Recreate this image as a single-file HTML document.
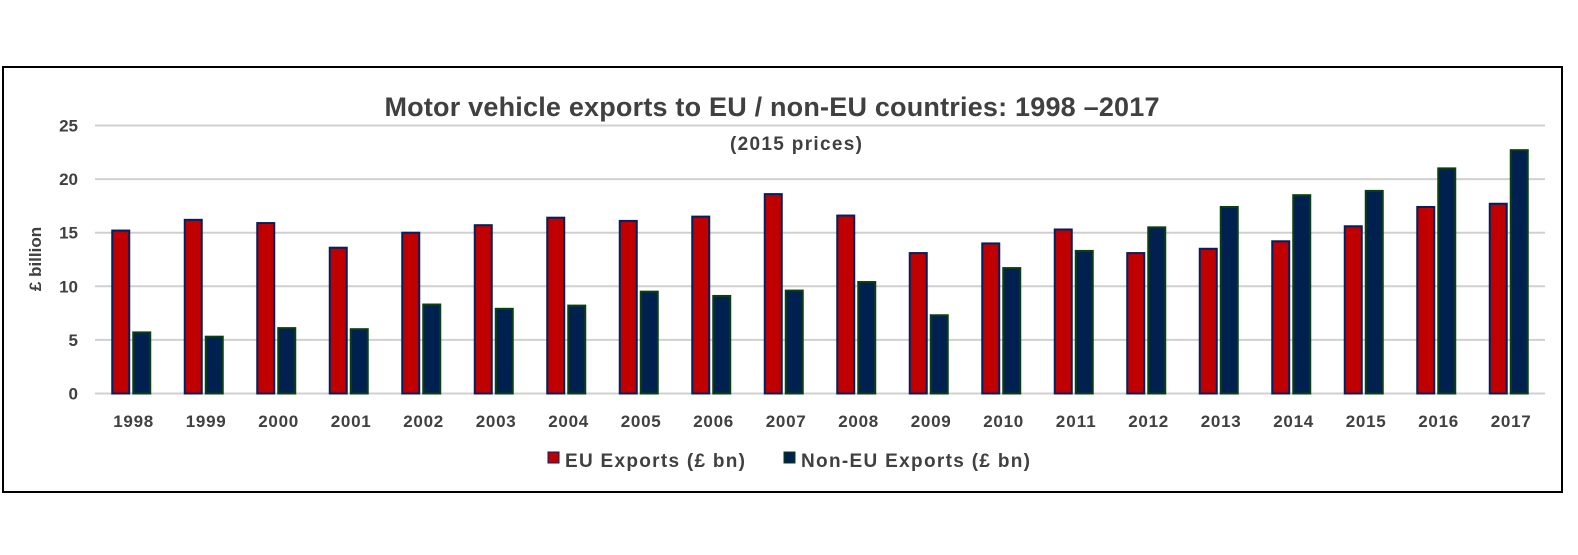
<!DOCTYPE html>
<html><head><meta charset="utf-8"><style>
body{margin:0;background:#fff;}
svg text{font-family:"Liberation Sans",sans-serif;font-weight:bold;fill:#404040;}
</style></head><body>
<svg width="1578" height="550" id="chart">
<rect x="3" y="67" width="1559" height="425" fill="#fff" stroke="#000" stroke-width="2"/>
<text x="772" y="116" font-size="27" text-anchor="middle" textLength="775">Motor vehicle exports to EU / non-EU countries: 1998 –2017</text>
<text x="796" y="150" font-size="19" text-anchor="middle" textLength="132">(2015 prices)</text>
<text transform="translate(41,259) rotate(-90)" font-size="17" text-anchor="middle">£ billion</text>
<g id="grid"></g><g id="bars"></g><g id="xl"></g>
<g>
<rect x="548" y="452" width="11" height="11" fill="#C00000" stroke="#002060" stroke-width="1"/>
<text x="565" y="467" font-size="19" textLength="180">EU Exports (£ bn)</text>
<rect x="784" y="452" width="11" height="11" fill="#002050" stroke="#004010" stroke-width="1"/>
<text x="801" y="467" font-size="19" textLength="229">Non-EU Exports (£ bn)</text>
</g>
</svg>
<script>
const years=["1998","1999","2000","2001","2002","2003","2004","2005","2006","2007","2008","2009","2010","2011","2012","2013","2014","2015","2016","2017"];
const euExports=[15.2,16.2,15.9,13.6,15.0,15.7,16.4,16.1,16.5,18.6,16.6,13.1,14.0,15.3,13.1,13.5,14.2,15.6,17.4,17.7];
const nonEuExports=[5.7,5.3,6.1,6.0,8.3,7.9,8.2,9.5,9.1,9.6,10.4,7.3,11.7,13.3,15.5,17.4,18.5,18.9,21.0,22.7];
const yTicks=[0,5,10,15,20,25];
const NS="http://www.w3.org/2000/svg";
const x0=95,x1=1545,yBase=393.5,yTop=125.5,yMax=25;
const band=(x1-x0)/years.length;
const y=v=>yBase-(v/yMax)*(yBase-yTop);
const cx=i=>x0+band*(i+0.5);
function mk(t,a,p){const e=document.createElementNS(NS,t);for(const k in a)e.setAttribute(k,a[k]);p.appendChild(e);return e;}
const g=document.getElementById('grid');
yTicks.forEach(t=>{
 const l=mk('line',{x1:x0,x2:x1,y1:y(t),y2:y(t),stroke:'#d0d0d0','stroke-width':2},g);
 
 
 const tx=mk('text',{x:78,y:y(t)+6,'font-size':17,'text-anchor':'end'},g);tx.textContent=t;
 
 
});
const b=document.getElementById('bars'),xl=document.getElementById('xl');
years.forEach((yr,i)=>{
 const c=cx(i);
 const r1=mk('rect',{x:c-19,y:y(euExports[i]),width:17,height:yBase-y(euExports[i]),fill:'#C00000',stroke:'#002060','stroke-width':2},b);
 
 
 const r2=mk('rect',{x:c+2,y:y(nonEuExports[i]),width:17,height:yBase-y(nonEuExports[i]),fill:'#002050',stroke:'#0a4010','stroke-width':2},b);
 
 
 const t=mk('text',{x:c+2,y:427,'font-size':17,'text-anchor':'middle',textLength:40},xl);t.textContent=yr;
 
 
});
</script>
</body></html>
